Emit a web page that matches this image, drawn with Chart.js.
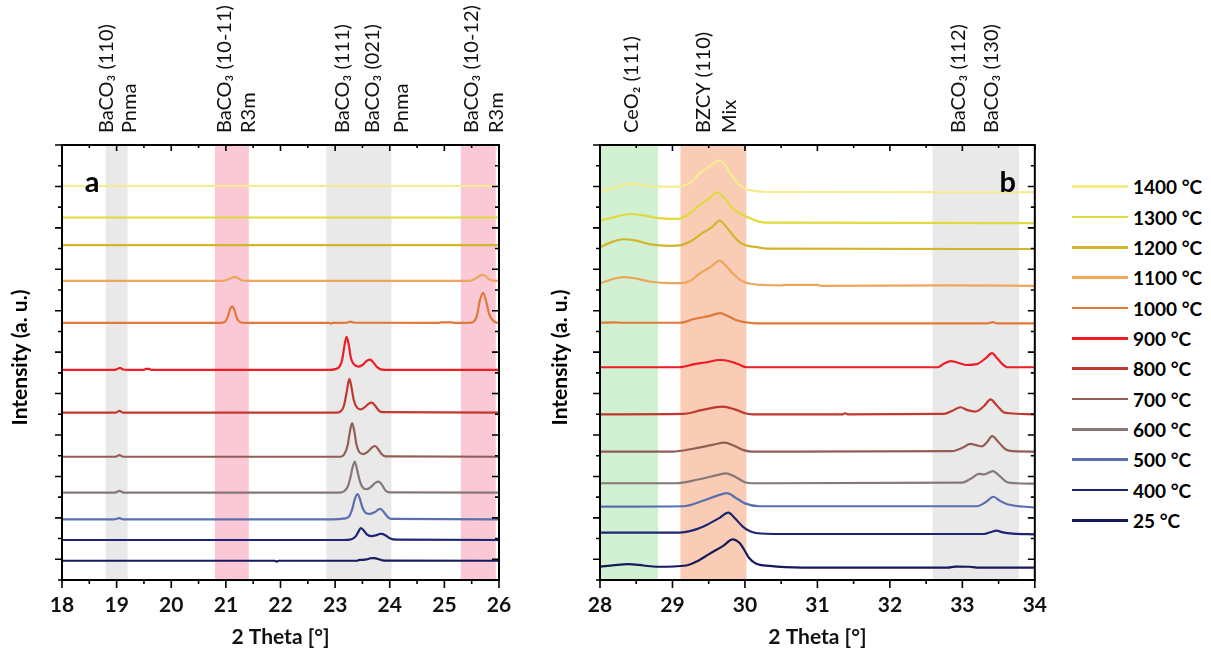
<!DOCTYPE html>
<html><head><meta charset="utf-8">
<script src="https://cdn.jsdelivr.net/npm/chart.js@4.4.0/dist/chart.umd.min.js"></script>
<style>
html,body{margin:0;padding:0;background:#fff}
body{width:1211px;height:658px;overflow:hidden;position:relative}
#ca{position:absolute;left:0;top:0}
#cb{position:absolute;left:540px;top:0}
#legend{position:absolute;left:1072px;top:171.5px}
.li{display:flex;align-items:center;height:30.35px}
.sw{width:56px;height:2.6px;margin-right:5px}
.lt{font:bold 19px Lato,'Open Sans',sans-serif;color:#000;white-space:nowrap}
</style></head>
<body>
<canvas id="ca" width="540" height="658"></canvas>
<canvas id="cb" width="520" height="658"></canvas>
<div id="legend"></div>
<script>
// ---- series names and colours (legend order, top to bottom)
const seriesNames = ['1400 °C','1300 °C','1200 °C','1100 °C','1000 °C','900 °C','800 °C','700 °C','600 °C','500 °C','400 °C','25 °C'];
const seriesColors = ['#f6ec8e','#e0da3e','#d2b52a','#eda65a','#e07a3c','#ee1c24','#c0392f','#925d55','#877777','#5b6fae','#1d2472','#16195a'];

// ---- panel a : 2 Theta 18-26, stacked intensity (a.u.)
const a1400 = [[18,19.02],[26,19.02]];
const a1300 = [[18,17.5],[26,17.5]];
const a1200 = [[18,16.17],[26,16.17]];
const a1100 = [[18,14.44],[20.95,14.44],[21.05,14.52],[21.12,14.6],[21.17,14.63],[21.22,14.58],[21.3,14.46],[21.38,14.44],[25.45,14.44],[25.55,14.52],[25.63,14.65],[25.69,14.73],[25.75,14.68],[25.83,14.5],[25.9,14.45],[26,14.44]];
const a1000 = [[18,12.41],[20.9,12.41],[20.98,12.46],[21.04,12.75],[21.08,13.1],[21.12,13.21],[21.16,13.0],[21.2,12.65],[21.26,12.45],[21.35,12.41],[22.9,12.41],[22.92,12.37],[22.95,12.41],[23.2,12.42],[23.28,12.47],[23.36,12.42],[24.9,12.41],[24.92,12.44],[25.15,12.44],[25.17,12.41],[25.45,12.41],[25.53,12.46],[25.6,12.8],[25.65,13.5],[25.71,13.86],[25.76,13.5],[25.82,12.85],[25.88,12.55],[25.95,12.43],[26,12.41]];
const a900 = [[18,10.14],[18.95,10.14],[19.02,10.2],[19.06,10.24],[19.12,10.16],[19.2,10.14],[19.5,10.14],[19.53,10.19],[19.6,10.19],[19.63,10.14],[22.9,10.14],[23.0,10.18],[23.08,10.3],[23.13,10.65],[23.17,11.3],[23.21,11.74],[23.25,11.35],[23.29,10.7],[23.35,10.4],[23.42,10.3],[23.5,10.38],[23.58,10.58],[23.64,10.64],[23.7,10.5],[23.78,10.25],[23.85,10.16],[24,10.14],[26,10.14]];
const a800 = [[18,8.08],[18.98,8.08],[19.05,8.16],[19.12,8.08],[23.02,8.08],[23.1,8.14],[23.16,8.4],[23.21,9.05],[23.26,9.71],[23.3,9.3],[23.34,8.7],[23.4,8.32],[23.47,8.24],[23.55,8.36],[23.62,8.52],[23.67,8.56],[23.73,8.42],[23.8,8.18],[23.88,8.1],[26,8.08]];
const a700 = [[18,5.95],[18.98,5.95],[19.05,6.03],[19.12,5.95],[23.1,5.95],[23.17,6.08],[23.23,6.5],[23.27,7.15],[23.31,7.58],[23.35,7.2],[23.39,6.55],[23.45,6.15],[23.52,6.08],[23.6,6.2],[23.68,6.4],[23.73,6.47],[23.78,6.35],[23.85,6.08],[23.92,5.97],[26,5.95]];
const a600 = [[18,4.22],[18.97,4.22],[19.05,4.3],[19.13,4.22],[23.08,4.22],[23.16,4.28],[23.23,4.5],[23.28,4.95],[23.32,5.45],[23.36,5.72],[23.4,5.35],[23.45,4.8],[23.5,4.48],[23.57,4.38],[23.65,4.48],[23.74,4.7],[23.8,4.75],[23.86,4.58],[23.93,4.3],[24.0,4.23],[26,4.22]];
const a500 = [[18,2.93],[18.95,2.93],[19.05,2.99],[19.12,2.93],[22.95,2.93],[23.15,2.96],[23.25,3.05],[23.31,3.4],[23.36,3.9],[23.41,4.15],[23.45,3.95],[23.5,3.5],[23.57,3.22],[23.64,3.19],[23.74,3.3],[23.8,3.42],[23.83,3.43],[23.9,3.25],[23.97,3.02],[24.03,2.95],[26,2.93]];
const a400 = [[18,1.93],[23.15,1.93],[23.3,1.97],[23.38,2.12],[23.43,2.35],[23.47,2.51],[23.52,2.4],[23.58,2.2],[23.66,2.12],[23.75,2.16],[23.81,2.22],[23.85,2.23],[23.92,2.16],[24.0,2.02],[24.12,1.95],[26,1.93]];
const a25 = [[18,0.93],[21.9,0.93],[21.93,0.88],[21.96,0.93],[23.4,0.93],[23.45,0.97],[23.55,0.98],[23.65,1.05],[23.72,1.06],[23.8,1.0],[23.9,0.94],[26,0.93]];

// ---- panel b : 2 Theta 28-34
const b1400 = [[28,18.75],[28.15,18.88],[28.3,19.05],[28.44,19.12],[28.6,19.06],[28.8,18.99],[29.1,18.99],[29.25,19.2],[29.38,19.64],[29.52,19.98],[29.64,20.25],[29.72,20.05],[29.83,19.47],[29.93,19.05],[30.02,18.86],[30.15,18.77],[30.29,18.73],[34,18.72]];
const b1300 = [[28,17.35],[28.2,17.52],[28.41,17.67],[28.6,17.6],[28.8,17.47],[29.05,17.43],[29.2,17.6],[29.35,18.03],[29.5,18.4],[29.62,18.72],[29.7,18.5],[29.83,17.95],[29.93,17.7],[30.02,17.54],[30.15,17.35],[30.29,17.25],[34,17.23]];
const b1200 = [[28,16.06],[28.15,16.3],[28.32,16.45],[28.5,16.38],[28.7,16.2],[28.96,16.13],[29.1,16.15],[29.25,16.35],[29.4,16.72],[29.55,17.05],[29.65,17.35],[29.73,17.1],[29.83,16.66],[29.93,16.3],[30.02,16.15],[30.15,16.08],[30.3,16.0],[34,15.98]];
const b1100 = [[28,14.33],[28.15,14.5],[28.32,14.62],[28.5,14.55],[28.7,14.4],[28.96,14.33],[29.1,14.33],[29.25,14.45],[29.38,14.81],[29.53,15.12],[29.65,15.42],[29.73,15.2],[29.83,14.81],[29.95,14.45],[30.1,14.29],[30.5,14.22],[30.55,14.25],[31.0,14.25],[31.05,14.2],[32.8,14.22],[34,14.2]];
const b1000 = [[28,12.42],[28.2,12.44],[28.3,12.42],[29.1,12.42],[29.3,12.6],[29.5,12.74],[29.66,12.88],[29.76,12.75],[29.9,12.52],[30.02,12.44],[30.15,12.39],[33.35,12.39],[33.42,12.45],[33.48,12.39],[34,12.39]];
const b900 = [[28,10.27],[29.1,10.27],[29.3,10.42],[29.45,10.5],[29.66,10.62],[29.8,10.55],[29.92,10.4],[30.02,10.27],[32.66,10.27],[32.75,10.45],[32.84,10.57],[32.93,10.5],[33.05,10.38],[33.2,10.42],[33.32,10.7],[33.41,10.95],[33.48,10.7],[33.56,10.4],[33.62,10.27],[34,10.27]];
const b800 = [[28,8.0],[29.15,8.02],[29.4,8.2],[29.69,8.37],[29.85,8.25],[30.0,8.05],[30.1,8.0],[31.35,8.0],[31.38,8.05],[31.42,8.0],[32.75,8.02],[32.88,8.2],[32.97,8.34],[33.07,8.2],[33.18,8.13],[33.3,8.4],[33.39,8.72],[33.47,8.45],[33.57,8.1],[33.65,8.05],[34,8.0]];
const b700 = [[28,6.2],[29.0,6.2],[29.3,6.35],[29.55,6.52],[29.72,6.63],[29.85,6.48],[29.98,6.27],[30.1,6.2],[32.86,6.22],[33.0,6.38],[33.11,6.57],[33.2,6.5],[33.27,6.45],[33.35,6.7],[33.41,6.95],[33.5,6.65],[33.6,6.3],[33.7,6.22],[34,6.2]];
const b600 = [[28,4.67],[29.05,4.67],[29.35,4.85],[29.6,5.05],[29.74,5.15],[29.88,4.95],[30.0,4.72],[30.1,4.67],[33.0,4.7],[33.12,4.9],[33.23,5.12],[33.3,5.1],[33.42,5.26],[33.52,5.0],[33.62,4.72],[33.75,4.67],[34,4.65]];
const b500 = [[28,3.54],[29.15,3.56],[29.4,3.8],[29.6,4.05],[29.75,4.19],[29.88,3.95],[30.0,3.7],[30.2,3.56],[33.2,3.56],[33.32,3.75],[33.43,4.02],[33.52,3.82],[33.62,3.66],[34,3.5]];
const b400 = [[28,2.29],[29.1,2.29],[29.3,2.42],[29.47,2.66],[29.65,3.0],[29.77,3.25],[29.87,2.95],[29.97,2.58],[30.07,2.35],[30.15,2.27],[30.5,2.22],[33.3,2.22],[33.4,2.32],[33.47,2.38],[33.56,2.3],[33.7,2.24],[34,2.2]];
const b25 = [[28,0.64],[28.2,0.72],[28.39,0.77],[28.6,0.7],[28.78,0.64],[29.19,0.7],[29.35,0.92],[29.51,1.26],[29.7,1.65],[29.83,1.96],[29.93,1.77],[30.0,1.4],[30.06,1.05],[30.15,0.8],[30.34,0.68],[30.8,0.6],[32.8,0.6],[32.9,0.65],[33.1,0.64],[33.2,0.6],[34,0.6]];

const seriesA = [a1400,a1300,a1200,a1100,a1000,a900,a800,a700,a600,a500,a400,a25];
const seriesB = [b1400,b1300,b1200,b1100,b1000,b900,b800,b700,b600,b500,b400,b25];

// ---- axis ranges / ticks
const xRangeA = [18, 26];
const xRangeB = [28, 34];
const yRange = [0, 21];

// ---- shaded reflection ranges
const bandsA = [{from:18.8,to:19.2,color:'#e9e9e9'},{from:20.8,to:21.42,color:'#fac9d5'},{from:22.84,to:24.03,color:'#e9e9e9'},{from:25.3,to:25.94,color:'#fac9d5'}];
const bandsB = [{from:28.0,to:28.8,color:'#d2f0d2'},{from:29.11,to:30.02,color:'#f9cdb5'},{from:32.59,to:33.78,color:'#e9e9e9'}];

// ---- reflection labels (x in 2 Theta)
const labelsA = [{x:18.81,t:'BaCO₃ (110)'},{x:19.24,t:'Pnma'},{x:20.97,t:'BaCO₃ (10-11)'},{x:21.42,t:'R3m'},{x:23.13,t:'BaCO₃ (111)'},{x:23.69,t:'BaCO₃ (021)'},{x:24.21,t:'Pnma'},{x:25.49,t:'BaCO₃ (10-12)'},{x:25.95,t:'R3m'}];
const labelsB = [{x:28.43,t:'CeO₂ (111)'},{x:29.43,t:'BZCY (110)'},{x:29.79,t:'Mix'},{x:32.95,t:'BaCO₃ (112)'},{x:33.40,t:'BaCO₃ (130)'}];

const FONT = "Lato, 'Open Sans', sans-serif";
const yTitle = 'Intensity (a. u.)';

const deco = {
  id:'deco',
  beforeDatasetsDraw(chart, args, o){
    const {ctx, chartArea:ca, scales:{x}} = chart;
    ctx.save();
    o.bands.forEach(b=>{
      const x1 = x.getPixelForValue(b.from), x2 = x.getPixelForValue(b.to);
      ctx.fillStyle = b.color;
      ctx.fillRect(x1, ca.top, x2-x1, ca.bottom-ca.top);
    });
    ctx.restore();
  },
  afterDatasetsDraw(chart, args, o){
    const {ctx, chartArea:ca, scales:{x,y}} = chart;
    ctx.save();
    ctx.strokeStyle = '#000';
    ctx.lineWidth = 2;
    ctx.strokeRect(ca.left, ca.top, ca.right-ca.left, ca.bottom-ca.top);
    ctx.lineWidth = 1.6;
    ctx.beginPath();
    const nx = Math.round((x.max - x.min)*2);
    for (let i=0;i<=nx;i++){
      const v = x.min + i/2, px = x.getPixelForValue(v), major = i%2===0;
      ctx.moveTo(px, ca.bottom); ctx.lineTo(px, ca.bottom + (major?8:4));
      ctx.moveTo(px, ca.top); ctx.lineTo(px, ca.top + (major?6:3));
    }
    for (let v=y.min; v<=y.max; v++){
      const py = y.getPixelForValue(v), major = v%2===1;
      ctx.moveTo(ca.left - (major?7:4), py); ctx.lineTo(ca.left, py);
      ctx.moveTo(ca.right - (major?7:4), py); ctx.lineTo(ca.right, py);
    }
    ctx.stroke();
    ctx.fillStyle = '#000';
    // y-axis title
    ctx.save();
    ctx.font = 'bold 21px ' + FONT;
    ctx.textAlign = 'center';
    ctx.textBaseline = 'middle';
    ctx.translate(y.left + 20, (ca.top + ca.bottom)/2 - 5);
    ctx.rotate(-Math.PI/2);
    ctx.fillText(yTitle, 0, 0);
    ctx.restore();
    // panel letter
    ctx.font = 'bold 29px ' + FONT;
    ctx.textAlign = 'center';
    ctx.textBaseline = 'alphabetic';
    ctx.fillText(o.letter, o.letterSide==='left' ? ca.left+30 : ca.right-27, ca.top+47);
    // reflection labels, rotated
    ctx.fillStyle = '#111';
    ctx.font = '20px ' + FONT;
    ctx.textAlign = 'left';
    ctx.textBaseline = 'middle';
    o.labels.forEach(l=>{
      ctx.save();
      ctx.translate(x.getPixelForValue(l.x), ca.top - 12);
      ctx.rotate(-Math.PI/2);
      ctx.fillText(l.t, 0, 0);
      ctx.restore();
    });
    ctx.restore();
  }
};

function makeChart(id, series, xr, bands, labels, letter, side, yw, padRight){
  return new Chart(document.getElementById(id), {
    type:'line',
    data:{datasets: series.map((s,i)=>({
      label: seriesNames[i],
      data: s.map(p=>({x:p[0], y:p[1]})),
      borderColor: seriesColors[i],
      borderWidth: 2.2,
      pointRadius: 0,
      cubicInterpolationMode: 'monotone',
      fill: false
    }))},
    options:{
      responsive:false, animation:false, devicePixelRatio:1,
      layout:{padding:{top:145, right:padRight, bottom:0, left:0}},
      plugins:{legend:{display:false}, tooltip:{enabled:false},
        deco:{bands, labels, letter, letterSide:side}},
      scales:{
        x:{type:'linear', min:xr[0], max:xr[1],
          grid:{display:false, drawTicks:false}, border:{display:false},
          ticks:{stepSize:1, autoSkip:false, maxRotation:0, padding:13, color:'#111',
            font:{family:FONT, size:21, weight:'bold'}},
          title:{display:true, text:'2 Theta [°]', color:'#111', padding:{top:0,bottom:8},
            font:{family:FONT, size:21, weight:'bold'}},
          afterFit(s){ s.height = 78; }
        },
        y:{type:'linear', min:yRange[0], max:yRange[1],
          grid:{display:false, drawTicks:false}, border:{display:false},
          ticks:{display:false, stepSize:1},
          title:{display:false},
          afterFit(s){ s.width = yw; }
        }
      }
    },
    plugins:[deco]
  });
}

makeChart('ca', seriesA, xRangeA, bandsA, labelsA, 'a', 'left', 62, 41);
makeChart('cb', seriesB, xRangeB, bandsB, labelsB, 'b', 'right', 60, 24);

// legend
const lg = document.getElementById('legend');
seriesNames.forEach((n,i)=>{
  const row = document.createElement('div'); row.className='li';
  const sw = document.createElement('div'); sw.className='sw'; sw.style.background = seriesColors[i];
  const t = document.createElement('span'); t.className='lt'; t.textContent = n;
  row.appendChild(sw); row.appendChild(t); lg.appendChild(row);
});
</script>
</body></html>
